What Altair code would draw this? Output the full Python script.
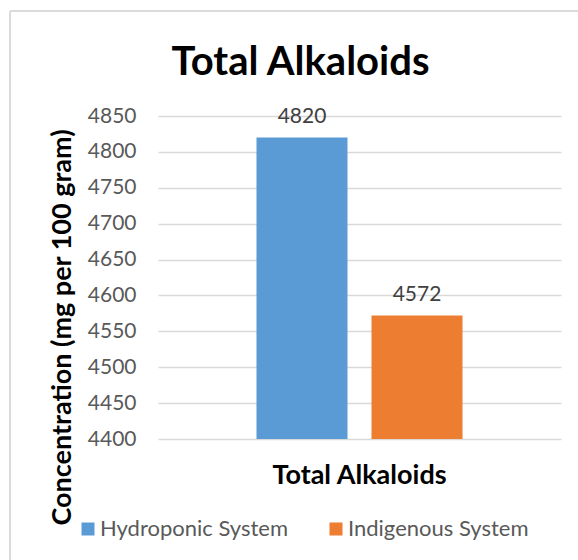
import altair as alt
import pandas as pd

categories = ["Total Alkaloids", "Total Alkaloids"]
series = ["Hydroponic System", "Indigenous System"]
values = [4820, 4572]
colors = ["#5B9BD5", "#ED7D31"]
y_ticks = [4400, 4450, 4500, 4550, 4600, 4650, 4700, 4750, 4800, 4850]

df = pd.DataFrame({"category": categories, "series": series, "value": values})

FONT = "Lato"

base = alt.Chart(df).encode(
    x=alt.X("category:N",
            scale=alt.Scale(paddingInner=0, paddingOuter=0.478),
            axis=alt.Axis(title=None, labelAngle=0, labelFont=FONT, labelFontSize=27,
                          labelFontWeight="bold", labelColor="#000000", ticks=False,
                          domain=False, labelPadding=23)),
    xOffset=alt.XOffset("series:N", scale=alt.Scale(paddingInner=0.2087, paddingOuter=0)),
    y=alt.Y("value:Q",
            scale=alt.Scale(domain=[4400, 4850], nice=False, zero=False),
            axis=alt.Axis(values=y_ticks, format="d", title="Concentration (mg per 100 gram)",
                          titleFont=FONT, titleFontSize=27, titleFontWeight="bold",
                          titleColor="#000000", titleAngle=270, titleX=-96, titleY=211,
                          titleAlign="center", titleBaseline="middle",
                          labelFont=FONT, labelFontSize=21, labelColor="#595959",
                          labelPadding=22, ticks=False, domain=False,
                          grid=True, gridColor="#D9D9D9", gridWidth=1.5)),
)

bars = base.mark_bar(clip=True).encode(
    color=alt.Color("series:N",
                    scale=alt.Scale(domain=series, range=colors),
                    legend=alt.Legend(title=None, orient="none", direction="horizontal",
                                      legendX=-81, legendY=402, symbolType="square",
                                      symbolSize=169, symbolStrokeWidth=0,
                                      labelFont=FONT, labelFontSize=22, labelLimit=0,
                                      labelColor="#595959", labelOffset=1,
                                      columnPadding=37, padding=0)),
)

labels = base.mark_text(font=FONT, fontSize=21, color="#404040", baseline="alphabetic",
                        dy=-15).encode(
    text=alt.Text("value:Q", format="d"),
)

border_top = alt.Chart(df).mark_rule(color="#D9D9D9", strokeWidth=1.5).encode(
    x=alt.value(-148), x2=alt.value(440), y=alt.value(-105))
border_left = alt.Chart(df).mark_rule(color="#D9D9D9", strokeWidth=1.5).encode(
    x=alt.value(-148), y=alt.value(-105), y2=alt.value(460))

chart = alt.layer(bars, labels, border_top, border_left).properties(
    width=403, height=323,
    title=alt.TitleParams("Total Alkaloids", font=FONT, fontSize=40, fontWeight="bold",
                          color="#000000", anchor="middle", frame="group", dx=-59,
                          offset=0, dy=73),
    autosize=alt.AutoSizeParams(type="none"),
    padding={"left": 158, "top": 116, "right": 17, "bottom": 121},
).configure(background="white").configure_view(strokeWidth=0, stroke="transparent")

chart.save("out.html", embed_options={"renderer": "svg", "actions": False})
